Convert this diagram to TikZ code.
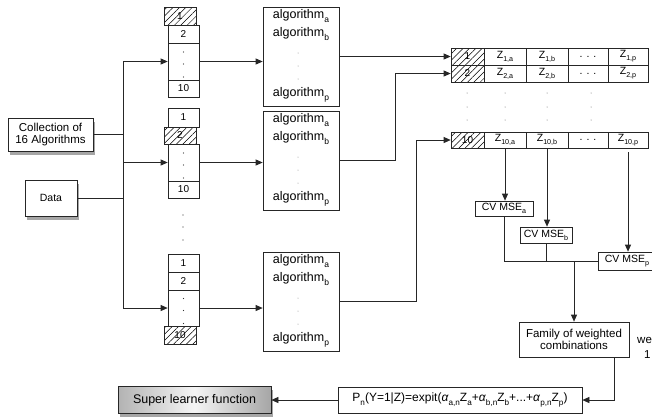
\documentclass[tikz,border=0pt]{standalone}
\usepackage{fontspec}
\setmainfont{Liberation Sans}
\usetikzlibrary{arrows.meta,patterns.meta,shadows,calc}
\newcommand\sbs[1]{\raisebox{-0.55ex}{\scalebox{0.68}{#1}}}
\tikzset{
  fnt/.style={font=\fontsize{#1}{#1}\selectfont},
  bx/.style 2 args={draw=black!85, line width=0.7pt, minimum width=#1, minimum height=#2, inner sep=0pt, fnt=11.5},
  hatch/.style={pattern={Lines[angle=45,distance=4.5pt,line width=0.5pt]}},
  arr/.style={-{Triangle[length=7pt,width=6pt]}},
  ln/.style={draw=black!85, line width=0.7pt},
  shad/.style={drop shadow={shadow xshift=2pt,shadow yshift=-3.5pt,opacity=0.35,fill=black}},
  fold/.style={bx={31}{18}, fnt=10, fill=white},
  hfold/.style={bx={32}{18}, fnt=10, hatch},
  dotsbox/.style={bx={31}{#1}, fill=white},
  algline/.style={fnt=12.5, inner sep=0pt},
  zc/.style 2 args={bx={#1}{#2}, fnt=10.5},
  cv/.style 2 args={bx={#1}{#2}, fnt=10.5, fill=white},
}
\begin{document}
\begin{tikzpicture}[x=1pt,y=-1pt]
\clip (0,0) rectangle (652,416);
\fill[white] (0,0) rectangle (652,416);

% inputs
\node[bx={85}{33}, shad, fill=white, align=center, fnt=11.5] (coll) at (50.5,134.5) {Collection of\\16 Algorithms};
\node[bx={52}{36}, shad, fill=white, fnt=10.5] (data) at (51,198) {Data};

% fold group 1
\node[hfold] (f1h1) at (180,16) {1};
\node[fold] (f1b2) at (183.5,34) {2};
\node[dotsbox=37] (f1d) at (183.5,61.5) {};
\node[fold, minimum height=17] (f1b10) at (183.5,88.5) {10};
% fold group 2
\node[fold, minimum height=19] (f2b1) at (183.5,117.5) {1};
\node[hfold, minimum height=17] (f2h2) at (180,135.5) {2};
\node[dotsbox=37] (f2d) at (183.5,162.5) {};
\node[fold, minimum height=17] (f2b10) at (183.5,189.5) {10};
% fold group 3
\node[fold] (f3b1) at (183.5,263) {1};
\node[fold] (f3b2) at (183.5,281) {2};
\node[dotsbox=36] (f3d) at (183.5,308) {};
\node[hfold] (f3h10) at (180,335) {10};

\foreach \n in {f1d,f2d,f3d}{
  \foreach \dy in {-9.5,2.5,15.5}{
    \fill[black!80] ($(\n.center)+(0,\dy)$) circle (0.55pt);
  }
}
\foreach \yy in {215,227,240}{ \fill[black!80] (183,\yy) circle (0.55pt); }

% algorithm boxes
\foreach \k/\top in {1/7,2/111,3/252}{
  \node[bx={76}{99}] (alg\k) at (301,\top+49.5) {};
  \node[algline] (alg\k a) at (301,\top+9) {algorithm\sbs{a}};
  \node[algline] (alg\k b) at (301,\top+27) {algorithm\sbs{b}};
  \node[algline] (alg\k p) at (301,\top+88) {algorithm\sbs{p}};
  \foreach \dy in {46,59,72}{ \fill[black!45] (298,\top+\dy) circle (0.5pt); }
}

% Z table
\foreach \r/\yc/\h in {1/56.5/17,2/73.5/17,10/140/16}{
  \node[zc={33}{\h}, hatch, fnt=10] (z\r h) at (467.5,\yc) {\r};
  \node[zc={42}{\h}] (z\r a) at (505,\yc) {Z\sbs{\r,a}};
  \node[zc={42}{\h}] (z\r b) at (547,\yc) {Z\sbs{\r,b}};
  \node[zc={40}{\h}] (z\r d) at (588,\yc) {. . .};
  \node[zc={40}{\h}] (z\r p) at (628,\yc) {Z\sbs{\r,p}};
}
\foreach \xx in {467,505,547,591}{
  \foreach \yy in {93,107,120}{ \fill[black!60] (\xx,\yy) circle (0.5pt); }
}

% CV boxes
\node[cv={58}{15}] (cva) at (504,208.5) {CV MSE\sbs{a}};
\node[cv={52}{16}] (cvb) at (546,235) {CV MSE\sbs{b}};
\node[cv={58}{18}] (cvp) at (627,261) {CV MSE\sbs{p}};

\node[bx={110}{35}, align=center, fnt=11.5] (fam) at (574,339.5) {Family of weighted\\combinations};
\node[fnt=11.5, anchor=west, inner sep=0pt] (we1) at (637,340) {we};
\node[fnt=11.5, anchor=west, inner sep=0pt] (we2) at (644,355) {1};

\node[bx={244}{26}, fnt=12] (form) at (460,400) {P\sbs{n}(Y=1|Z)=expit(\textit{α}\sbs{a,n}Z\sbs{a}+\textit{α}\sbs{b,n}Z\sbs{b}+...+\textit{α}\sbs{p,n}Z\sbs{p})};
\node[bx={153}{27}, shad, left color=gray!60, right color=gray!70, middle color=gray!8, fnt=12.5] (sl) at (194.5,400) {Super learner function};

% connectors
\coordinate (jt) at (123,61.5);
\coordinate (jb) at (123,308);
\draw[ln] (jt) -- (jb);
\draw[ln] (coll.east) -- (coll.east -| jt);
\draw[ln] (data.east) -- (data.east -| jt);
\draw[ln,arr] (jt) -- (f1d.west);
\draw[ln,arr] (jt |- f2d.west) -- (f2d.west);
\draw[ln,arr] (jb) -- (f3d.west);

\draw[ln,arr] (f1d.east) -- (f1d.east -| alg1.west);
\draw[ln,arr] (f2d.east) -- (f2d.east -| alg2.west);
\draw[ln,arr] (f3d.east) -- (f3d.east -| alg3.west);

\draw[ln,arr] (alg1.east |- z1h.west) -- (z1h.west);
\draw[ln,arr] (alg2.east) -| ([xshift=-55pt]z2h.west) -- (z2h.west);
\draw[ln,arr] (alg3.east) -| ([xshift=-34pt]z10h.west) -- (z10h.west);

\draw[ln,arr] (z10a.south) -- (z10a.south |- cva.north);
\draw[ln,arr] (z10b.south) -- (z10b.south |- cvb.north);
\draw[ln,arr] ([yshift=-4pt]z10p.south) -- (z10p.south |- cvp.north);

\draw[ln] (cva.south) |- (cvp.west);
\draw[ln] (cvb.south) -- (cvb.south |- cvp.west);
\draw[ln,arr] (fam.north |- cvp.west) -- (fam.north);

\draw[ln,arr] ([xshift=40pt]fam.south) |- (form.east);
\draw[ln,arr] (form.west) -- (sl.east);
\end{tikzpicture}
\end{document}
